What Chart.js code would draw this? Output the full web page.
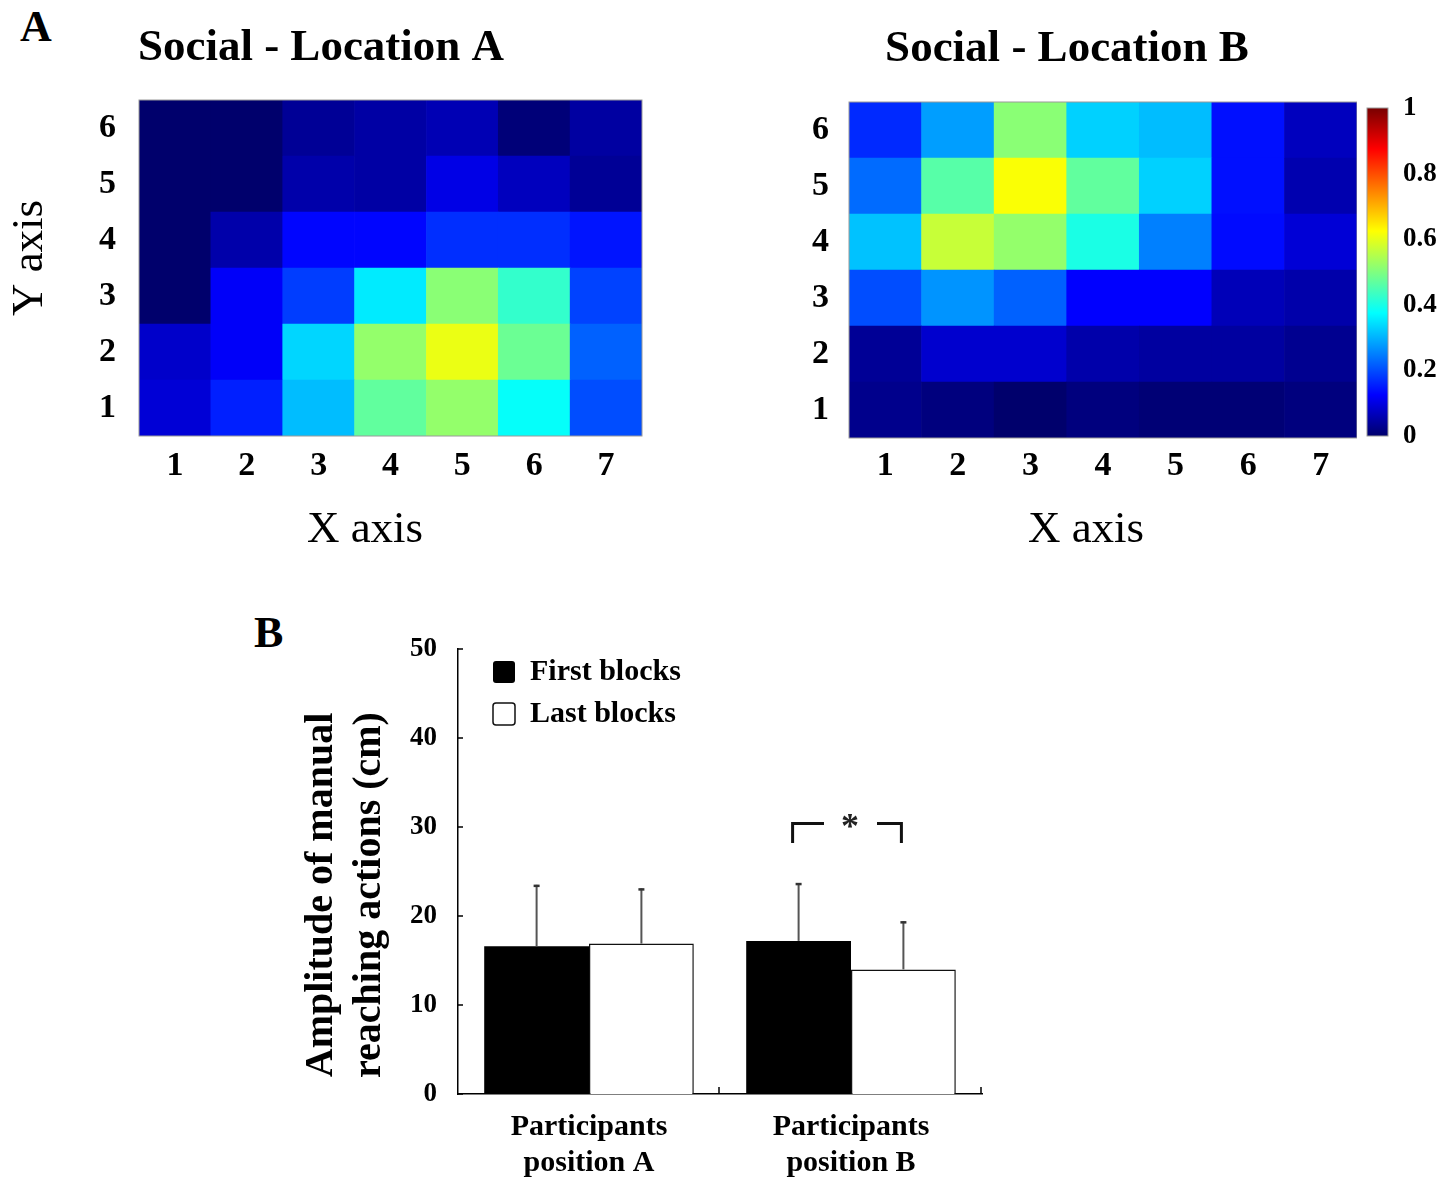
<!DOCTYPE html>
<html><head><meta charset="utf-8">
<script src="https://cdn.jsdelivr.net/npm/chart.js@4.4.1/dist/chart.umd.min.js"></script>
<style>
html,body{margin:0;padding:0;background:#fff;}
body{width:1451px;height:1177px;position:relative;overflow:hidden;font-family:"Liberation Serif","Times New Roman",serif;}
canvas{position:absolute;}
.panel{position:absolute;font-weight:bold;font-size:44px;line-height:1;color:#000;}
</style></head><body>
<div class="panel" style="left:20px;top:5px">A</div>
<div class="panel" style="left:254px;top:611px">B</div>
<canvas id="heatA" width="646" height="560" style="left:0;top:0"></canvas>
<canvas id="heatB" width="580" height="560" style="left:777px;top:0"></canvas>
<canvas id="cbar" width="94" height="560" style="left:1357px;top:0"></canvas>
<canvas id="bars" width="720" height="577" style="left:280px;top:600px"></canvas>
<script>
// ---------------- DATA ----------------
const xCategories = ['1', '2', '3', '4', '5', '6', '7'];
const yRows = [1, 2, 3, 4, 5, 6];
// rows: Y = 1 .. 6 ; columns: X = 1 .. 7
const locationA = [
  [0.09, 0.155, 0.31, 0.47, 0.52, 0.38, 0.20],
  [0.08, 0.12, 0.335, 0.52, 0.605, 0.48, 0.22],
  [0.00, 0.12, 0.185, 0.355, 0.51, 0.425, 0.19],
  [0.00, 0.053, 0.13, 0.13, 0.17, 0.17, 0.145],
  [0.00, 0.00, 0.053, 0.048, 0.104, 0.07, 0.036],
  [0.00, 0.00, 0.036, 0.048, 0.061, 0.01, 0.045]
];
const locationB = [
  [0.027, 0.015, 0.00, 0.015, 0.008, 0.008, 0.015],
  [0.036, 0.083, 0.083, 0.053, 0.044, 0.044, 0.031],
  [0.20, 0.27, 0.22, 0.125, 0.125, 0.065, 0.053],
  [0.315, 0.57, 0.52, 0.40, 0.25, 0.135, 0.09],
  [0.23, 0.46, 0.62, 0.47, 0.33, 0.14, 0.057],
  [0.165, 0.28, 0.51, 0.33, 0.31, 0.14, 0.07]
];
const colorbarTicks = [0, 0.2, 0.4, 0.6, 0.8, 1];

const barCategories = [['Participants', 'position A'], ['Participants', 'position B']];
const firstBlocks = [16.6, 17.2];
const firstBlocksSD = [6.9, 6.5];
const lastBlocks = [16.9, 14.0];
const lastBlocksSD = [6.2, 5.4];
const barTicks = [0, 10, 20, 30, 40, 50];
const significance = {category: 1, level: 30.4, drop: 28.2, label: '*'};

// ---------------- STYLE ----------------
const SERIF = '"Liberation Serif", "Times New Roman", serif';
Chart.defaults.font.family = SERIF;
Chart.defaults.color = '#000';

const jetStops = [[0, [0, 0, 108]], [0.125, [0, 0, 255]], [0.375, [0, 255, 255]],
                  [0.625, [255, 255, 0]], [0.875, [255, 0, 0]], [1, [120, 0, 0]]];
function jet(v) {
  v = Math.max(0, Math.min(1, v));
  for (let i = 1; i < jetStops.length; i++) {
    const [p0, c0] = jetStops[i - 1], [p1, c1] = jetStops[i];
    if (v <= p1) {
      const t = (v - p0) / (p1 - p0);
      return 'rgb(' + c0.map((c, k) => Math.round(c + (c1[k] - c) * t)).join(',') + ')';
    }
  }
  return 'rgb(120,0,0)';
}

const freeText = {
  id: 'freeText',
  afterDraw(chart, args, opts) {
    const ctx = chart.ctx;
    (opts.items || []).forEach(it => {
      ctx.save();
      ctx.font = it.font;
      ctx.fillStyle = '#000';
      ctx.textAlign = 'center';
      ctx.textBaseline = 'middle';
      ctx.translate(it.x, it.y);
      if (it.rotation) ctx.rotate(it.rotation);
      const lines = Array.isArray(it.text) ? it.text : [it.text];
      lines.forEach((l, i) => ctx.fillText(l, 0, i * (it.lineHeight || 0)));
      ctx.restore();
    });
  }
};
const frame = {
  id: 'frame',
  afterDatasetsDraw(chart, args, opts) {
    const a = chart.chartArea, ctx = chart.ctx;
    ctx.save();
    ctx.strokeStyle = opts.color || '#999';
    ctx.lineWidth = opts.width || 1;
    ctx.strokeRect(a.left, a.top, a.right - a.left, a.bottom - a.top);
    ctx.restore();
  }
};

function heatDatasets(matrix) {
  return yRows.map((r, ri) => ({
    label: 'Y ' + r,
    data: xCategories.map(() => [r - 0.5, r + 0.5]),
    backgroundColor: matrix[ri].map(v => jet(v)),
    borderWidth: 0,
    barPercentage: 1,
    categoryPercentage: 1,
    grouped: false
  }));
}

function heatChart(id, matrix, cfg) {
  return new Chart(document.getElementById(id), {
    type: 'bar',
    data: {labels: xCategories, datasets: heatDatasets(matrix)},
    options: {
      responsive: false, animation: false,
      layout: {padding: {left: 0, right: cfg.padRight, top: 0, bottom: 0}},
      plugins: {
        legend: {display: false}, tooltip: {enabled: false},
        title: {display: true, text: cfg.title, color: '#000',
                font: {family: SERIF, size: 45, weight: 'bold'},
                padding: {top: cfg.titleTop, bottom: cfg.titleBottom}},
        frame: {color: '#9a9a9a', width: 1},
        freeText: {items: cfg.texts}
      },
      scales: {
        x: {
          type: 'category',
          grid: {display: false, drawTicks: false},
          border: {display: false},
          ticks: {color: '#000', font: {family: SERIF, size: 34, weight: 'bold'}, padding: cfg.xPad},
          afterFit: s => { s.height = cfg.xHeight; }
        },
        y: {
          type: 'linear', min: 0.5, max: 6.5,
          afterBuildTicks: s => { s.ticks = yRows.map(v => ({value: v})); },
          grid: {display: false, drawTicks: false},
          border: {display: false},
          ticks: {color: '#000', font: {family: SERIF, size: 34, weight: 'bold'}, padding: cfg.yPad},
          afterFit: s => { s.width = cfg.yWidth; }
        }
      }
    },
    plugins: [frame, freeText]
  });
}

heatChart('heatA', locationA, {
  title: 'Social - Location A', padRight: 4, titleTop: 21, titleBottom: 25,
  xPad: 10, xHeight: 124, yPad: 23, yWidth: 139,
  texts: [
    {text: 'Y axis', x: 30, y: 258, rotation: -Math.PI / 2, font: '45px ' + SERIF},
    {text: 'X axis', x: 365, y: 530, font: '45px ' + SERIF}
  ]
});
heatChart('heatB', locationB, {
  title: 'Social - Location B', padRight: 0, titleTop: 22, titleBottom: 26,
  xPad: 8, xHeight: 122, yPad: 20, yWidth: 72,
  texts: [
    {text: 'X axis', x: 309, y: 530, font: '45px ' + SERIF}
  ]
});

// ---------------- COLORBAR ----------------
new Chart(document.getElementById('cbar'), {
  type: 'bar',
  data: {labels: [''], datasets: [{
    data: [[colorbarTicks[0], colorbarTicks[colorbarTicks.length - 1]]],
    backgroundColor: (c) => {
      const ch = c.chart, ys = ch.scales.y;
      if (!ch.chartArea || !ys) return 'rgba(0,0,0,0)';
      const g = ch.ctx.createLinearGradient(0, ys.getPixelForValue(0), 0, ys.getPixelForValue(1));
      jetStops.forEach(([p, col]) => g.addColorStop(p, 'rgb(' + col.join(',') + ')'));
      return g;
    },
    borderWidth: 0, barPercentage: 1, categoryPercentage: 1
  }]},
  options: {
    responsive: false, animation: false,
    layout: {padding: {left: 10, right: 0, top: 108, bottom: 124}},
    plugins: {legend: {display: false}, tooltip: {enabled: false}, frame: {color: '#9a9a9a', width: 1}},
    scales: {
      x: {display: false},
      y: {
        position: 'right', min: 0, max: 1,
        afterBuildTicks: s => { s.ticks = colorbarTicks.map(v => ({value: v})); },
        grid: {display: false, drawTicks: false},
        border: {display: false},
        ticks: {color: '#000', font: {family: SERIF, size: 27, weight: 'bold'}, padding: 15,
                callback: v => String(v)},
        afterFit: s => { s.width = 63; }
      }
    }
  },
  plugins: [frame]
});

// ---------------- BAR CHART ----------------
const errorBars = {
  id: 'errorBars',
  afterDatasetsDraw(chart) {
    const ctx = chart.ctx, ys = chart.scales.y;
    chart.data.datasets.forEach((ds, di) => {
      chart.getDatasetMeta(di).data.forEach((bar, i) => {
        const top = ys.getPixelForValue(ds.data[i] + ds.errors[i]);
        ctx.save();
        ctx.strokeStyle = '#555';
        ctx.lineWidth = 2;
        ctx.beginPath();
        ctx.moveTo(bar.x, bar.y);
        ctx.lineTo(bar.x, top);
        ctx.stroke();
        ctx.strokeStyle = '#333';
        ctx.lineWidth = 2.5;
        ctx.beginPath();
        ctx.moveTo(bar.x - 3, top + 1);
        ctx.lineTo(bar.x + 3, top + 1);
        ctx.stroke();
        ctx.restore();
      });
    });
  }
};
const sigBracket = {
  id: 'sigBracket',
  afterDatasetsDraw(chart) {
    const ctx = chart.ctx, ys = chart.scales.y;
    const b0 = chart.getDatasetMeta(0).data[significance.category];
    const b1 = chart.getDatasetMeta(1).data[significance.category];
    const x1 = b0.x - 6, x2 = b1.x - 2, xm = (x1 + x2) / 2;
    const yT = ys.getPixelForValue(significance.level), yD = ys.getPixelForValue(significance.drop);
    ctx.save();
    ctx.strokeStyle = '#111';
    ctx.lineWidth = 3;
    ctx.lineJoin = 'miter';
    ctx.beginPath();
    ctx.moveTo(x1, yD); ctx.lineTo(x1, yT); ctx.lineTo(xm - 23, yT);
    ctx.moveTo(xm + 30, yT); ctx.lineTo(x2, yT); ctx.lineTo(x2, yD);
    ctx.stroke();
    ctx.fillStyle = '#222';
    ctx.font = 'bold 36px ' + SERIF;
    ctx.textAlign = 'center';
    ctx.textBaseline = 'alphabetic';
    ctx.fillText(significance.label, xm + 3, yT + 15);
    ctx.restore();
  }
};
const inwardTicks = {
  id: 'inwardTicks',
  afterDraw(chart) {
    const ctx = chart.ctx, a = chart.chartArea, xs = chart.scales.x, ys = chart.scales.y;
    ctx.save();
    ctx.strokeStyle = '#000';
    ctx.lineWidth = 1.5;
    ctx.beginPath();
    barTicks.forEach(v => { const p = ys.getPixelForValue(v); ctx.moveTo(a.left, p); ctx.lineTo(a.left + 5, p); });
    const n = chart.data.labels.length;
    for (let i = 1; i <= n; i++) {
      const p = xs.left + (xs.right - xs.left) * i / n - 1;
      ctx.moveTo(p, a.bottom); ctx.lineTo(p, a.bottom - 7);
    }
    ctx.stroke();
    ctx.restore();
  }
};
const legendShift = {
  id: 'legendShift',
  afterLayout(chart) {
    if (chart.legend) {
      chart.legend.left = chart.chartArea.left + 23;
      chart.legend.top = chart.chartArea.top - 4;
    }
  }
};

new Chart(document.getElementById('bars'), {
  type: 'bar',
  data: {
    labels: barCategories,
    datasets: [
      {label: 'First blocks', data: firstBlocks, errors: firstBlocksSD,
       backgroundColor: '#000', borderColor: '#000', borderWidth: 0},
      {label: 'Last blocks', data: lastBlocks, errors: lastBlocksSD,
       backgroundColor: '#fff', borderColor: '#111', borderWidth: 1.5}
    ]
  },
  options: {
    responsive: false, animation: false,
    layout: {padding: {left: 0, right: 18, top: 49, bottom: 0}},
    datasets: {bar: {categoryPercentage: 0.8, barPercentage: 1}},
    plugins: {
      tooltip: {enabled: false},
      legend: {
        position: 'chartArea', align: 'start',
        labels: {boxWidth: 22, boxHeight: 22, padding: 12, color: '#000',
                 useBorderRadius: true, borderRadius: 3,
                 font: {family: SERIF, size: 30, weight: 'bold'}}
      },
      freeText: {items: [
        {text: ['Amplitude of manual', 'reaching actions (cm)'], x: 42, y: 295, lineHeight: 48,
         rotation: -Math.PI / 2, font: 'bold 40px ' + SERIF}
      ]}
    },
    scales: {
      x: {
        z: 1,
        grid: {display: false, drawTicks: false},
        border: {display: true, color: '#000', width: 1.5},
        ticks: {color: '#000', font: {family: SERIF, size: 30, weight: 'bold'}, padding: 15},
        afterFit: s => { s.height = 83; }
      },
      y: {
        min: 0, max: 50,
        afterBuildTicks: s => { s.ticks = barTicks.map(v => ({value: v})); },
        grid: {display: false, drawTicks: false},
        border: {display: true, color: '#000', width: 1.5},
        ticks: {color: '#000', font: {family: SERIF, size: 27, weight: 'bold'}, padding: 21},
        afterFit: s => { s.width = 178; }
      }
    }
  },
  plugins: [errorBars, sigBracket, inwardTicks, legendShift, freeText]
});
</script>
</body></html>
